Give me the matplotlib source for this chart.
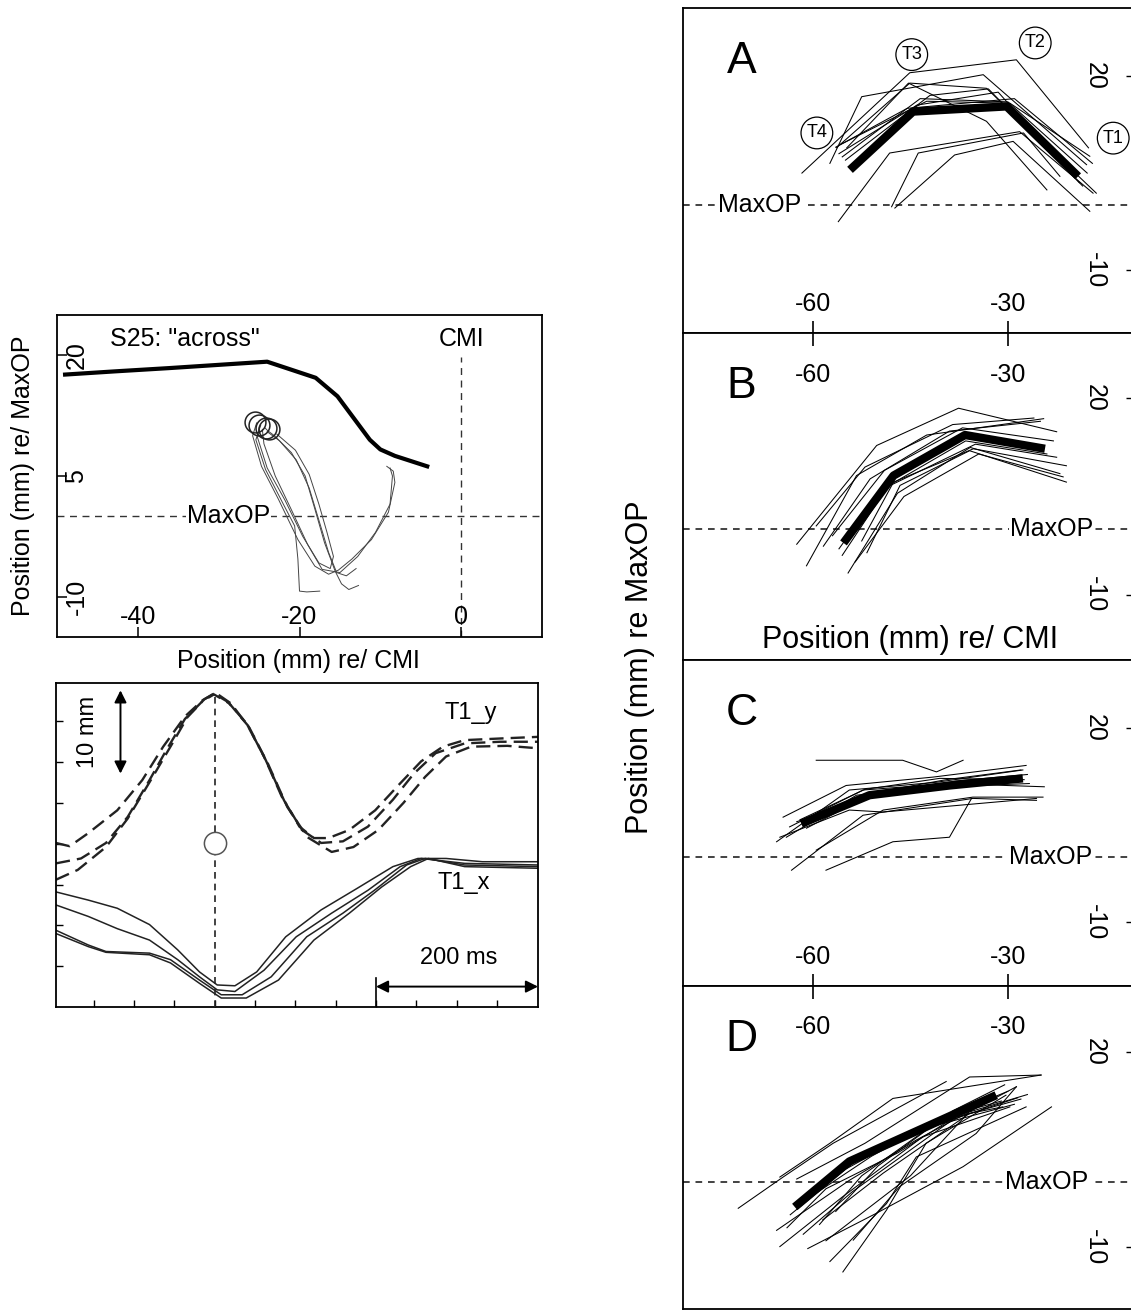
import matplotlib
matplotlib.use('Agg')
import matplotlib.pyplot as plt

plt.rcParams['font.family'] = ['Liberation Sans', 'DejaVu Sans']

# ------------------------------------------------------------------ data
# Top-left: S25 "across" – palate contour, onset circles, tongue trajectories
palate_x = [-49.0, -42.8, -36.2, -24.0, -18.0, -15.3, -13.3, -11.3, -10.0, -8.2, -4.2]
palate_y = [17.6, 18.0, 18.4, 19.2, 17.2, 14.9, 12.2, 9.5, 8.3, 7.5, 6.2]
onset_x = [-25.5, -25.0, -24.2, -23.8]
onset_y = [11.7, 11.3, 11.0, 10.8]
traj_x = [
    [-25.3, -25.8, -24.7, -22.6, -20.2, -18.1, -16.4, -15.2, -13.5, -11.1, -9.0, -8.2, -8.4, -9.2],
    [-24.3, -23.9, -23.1, -21.0, -19.3, -18.1, -16.9, -16.0, -15.6, -14.8, -13.9, -12.7],
    [-24.8, -25.4, -24.2, -22.0, -20.6, -20.2, -20.0, -19.1, -17.5],
    [-25.0, -25.2, -24.0, -21.8, -19.6, -17.6, -16.2, -15.8, -16.6, -17.6, -18.8, -20.5, -22.8],
    [-24.6, -24.4, -23.0, -21.0, -19.0, -17.2, -15.0, -12.8, -10.6, -8.8, -8.5, -8.8],
    [-24.0, -22.5, -20.4, -18.8, -17.6, -16.4, -15.4, -14.2, -13.0],
]
traj_y = [
    [11.6, 10.0, 6.2, 2.1, -2.9, -6.2, -7.2, -6.7, -5.3, -2.9, 0.5, 4.2, 5.6, 6.2],
    [11.0, 10.6, 10.0, 7.9, 5.0, 0.9, -3.3, -5.7, -6.8, -8.4, -9.1, -8.6],
    [11.3, 9.5, 5.8, 1.5, -1.2, -5.3, -9.3, -9.4, -9.3],
    [11.0, 9.8, 6.0, 2.0, -2.5, -5.8, -6.5, -5.0, -2.0, 1.5, 5.2, 8.2, 10.2],
    [10.8, 9.0, 5.0, 0.8, -3.5, -6.6, -7.0, -5.0, -2.0, 1.5, 5.0, 6.0],
    [10.5, 9.4, 7.0, 3.5, -0.5, -4.5, -7.0, -7.4, -6.5],
]
tl_xticks = [-40, -20, 0]
tl_yticks = [20, 5, -10]

# Bottom-left: T1_y (dashed) and T1_x (solid) time series, ms / mm
t1y_x = [
    [3, 20, 43, 79, 110, 136, 163, 185, 199, 216, 239, 261, 283, 305, 323, 341, 367, 399, 430, 456, 483, 510, 554, 601],
    [3, 34, 65, 92, 119, 140, 163, 185, 199, 218, 241, 263, 286, 308, 332, 359, 390, 421, 447, 474, 510, 554, 601],
    [3, 30, 65, 92, 123, 145, 166, 187, 201, 220, 243, 266, 290, 315, 345, 372, 403, 434, 461, 487, 518, 563, 601],
]
t1y_y = [
    [20.1, 19.7, 21.3, 24.1, 27.8, 31.9, 35.6, 37.6, 38.4, 37.4, 34.8, 30.7, 25.8, 22.1, 20.7, 20.7, 21.7, 24.1, 27.4, 30.1, 31.9, 32.7, 32.9, 33.1],
    [17.6, 18.2, 20.1, 23.3, 27.8, 31.5, 35.3, 37.5, 38.3, 37.2, 34.5, 30.3, 25.3, 21.7, 20.1, 20.3, 22.1, 25.4, 28.6, 31.1, 32.3, 32.5, 32.5],
    [15.6, 16.8, 19.6, 23.1, 28.2, 31.9, 35.5, 37.7, 38.5, 37.2, 34.2, 29.8, 24.5, 20.8, 19.0, 19.6, 21.7, 25.0, 28.2, 30.7, 31.9, 32.0, 31.7],
]
t1x_x = [
    [3, 43, 79, 119, 154, 181, 203, 225, 252, 288, 332, 376, 421, 452, 487, 532, 601],
    [3, 43, 79, 119, 154, 181, 203, 225, 261, 301, 345, 390, 430, 456, 510, 601],
    [3, 43, 65, 119, 145, 181, 208, 234, 270, 314, 359, 398, 438, 461, 510, 601],
    [3, 43, 65, 119, 145, 181, 208, 239, 279, 323, 367, 407, 443, 465, 510, 601],
]
t1x_y = [
    [14.1, 13.1, 12.1, 10.1, 7.0, 4.3, 2.7, 2.6, 4.3, 8.6, 11.9, 14.5, 17.2, 18.2, 18.2, 17.8, 17.8],
    [12.5, 11.1, 9.6, 8.2, 5.8, 3.7, 2.1, 1.9, 4.5, 8.6, 11.5, 14.3, 17.2, 18.2, 17.6, 17.4],
    [9.4, 7.6, 6.8, 6.6, 5.8, 3.3, 1.5, 1.5, 3.7, 8.6, 11.5, 14.3, 17.4, 18.2, 17.4, 17.2],
    [9.0, 7.4, 6.7, 6.4, 5.4, 2.9, 1.1, 1.1, 3.3, 8.2, 11.5, 14.7, 17.2, 18.2, 17.2, 17.0],
]
peak_time = 200
peak_marker_y = 20.1
bl_xticks = [50, 100, 150, 200, 250, 300, 350, 400, 450, 500, 550]
bl_yticks = [5, 10, 15, 20, 25, 30, 35]

# Right panels A-D: T4, T3, T2, T1 positions per trial, and the mean (thick)
A_mean_x = [-54.3, -44.6, -30.2, -19.2]
A_mean_y = [5.5, 14.5, 15.3, 4.5]
A_trials_x = [
    [-61.7, -45.1, -28.7, -17.6], [-57.4, -52.5, -33.8, -17.9], [-56.4, -45.1, -33.3, -16.4],
    [-56.1, -48.2, -28.2, -16.9], [-47.9, -43.8, -27.6, -22.0], [-47.4, -38.2, -29.2, -17.4],
    [-55.8, -42.5, -29.7, -17.4], [-54.8, -45.3, -33.3, -24.0], [-55.5, -43.5, -30.0, -17.8],
    [-56.0, -44.0, -31.5, -19.0], [-55.0, -42.0, -33.0, -18.5], [-56.5, -45.5, -29.0, -17.0],
]
A_trials_y = [
    [5.0, 20.5, 22.5, 8.9], [6.5, 16.8, 20.2, 6.3], [8.9, 18.9, 18.1, 1.9],
    [-2.5, 8.1, 11.4, 1.9], [-0.2, 8.1, 11.2, 4.5], [-0.4, 7.8, 9.9, -0.9],
    [9.4, 16.1, 15.8, 7.6], [8.9, 18.9, 13.0, 2.4], [7.5, 16.5, 16.0, 5.0],
    [8.0, 15.5, 17.5, 3.5], [7.0, 17.0, 18.0, 3.0], [9.0, 15.0, 16.5, 6.5],
]
B_mean_x = [-55.3, -47.6, -36.6, -24.3]
B_mean_y = [-2.1, 8.2, 14.4, 12.3]
B_trials_x = [
    [-62.5, -50.2, -37.6, -22.5], [-61.0, -53.3, -42.5, -24.5], [-54.6, -47.0, -35.8, -22.0],
    [-52.5, -47.6, -35.3, -21.0], [-51.7, -46.6, -35.9, -21.0], [-58.4, -51.2, -39.0, -25.0],
    [-57.0, -49.0, -37.0, -23.0], [-55.5, -48.5, -35.0, -22.5], [-59.5, -52.0, -38.5, -26.0],
    [-53.5, -46.0, -34.5, -21.5], [-56.0, -49.5, -36.5, -24.0],
]
B_trials_y = [
    [-2.3, 12.8, 18.5, 14.9], [-5.6, 8.2, 14.4, 16.9], [-6.7, 5.5, 12.5, 8.5],
    [-1.8, 7.2, 12.3, 9.7], [-3.6, 6.7, 12.0, 7.2], [-2.6, 7.7, 15.0, 16.5],
    [-1.0, 9.0, 15.5, 13.5], [-4.0, 6.5, 13.0, 11.0], [0.5, 9.5, 16.0, 17.0],
    [-5.0, 5.0, 11.5, 8.0], [-3.0, 6.0, 13.5, 11.5],
]
C_mean_x = [-61.8, -51.3, -39.0, -27.7]
C_mean_y = [5.2, 9.6, 11.1, 12.2]
C_trials_x = [
    [-59.5, -46.2, -41.0, -36.9], [-64.6, -54.9, -41.5, -27.2], [-65.6, -54.4, -41.0, -27.7],
    [-63.3, -52.3, -35.4, -25.6], [-58.0, -47.7, -39.0, -35.6], [-63.6, -52.3, -39.0, -24.4],
    [-64.1, -53.3, -40.0, -26.7], [-65.1, -54.4, -49.2, -25.6], [-59.5, -49.2, -35.4, -24.6],
    [-62.5, -51.5, -38.0, -27.0], [-61.0, -50.5, -39.5, -28.0], [-62.0, -52.0, -40.5, -27.5],
]
C_trials_y = [
    [15.0, 15.0, 13.2, 15.0], [6.2, 11.1, 12.4, 14.2], [2.4, 10.4, 11.6, 13.5],
    [-2.0, 6.5, 9.1, 8.8], [-2.0, 2.4, 3.1, 9.1], [4.7, 10.4, 11.4, 10.9],
    [3.1, 9.6, 10.9, 11.4], [3.1, 7.3, 7.0, 9.1], [1.1, 7.3, 9.3, 9.3],
    [5.5, 9.2, 11.8, 12.8], [4.5, 10.0, 12.0, 13.5], [5.8, 10.5, 12.2, 12.0],
]
D_mean_x = [-62.8, -54.4, -48.2, -31.8]
D_mean_y = [-3.8, 3.2, 6.0, 13.4]
D_trials_x = [
    [-71.5, -64.6, -56.9, -39.5], [-65.1, -57.4, -47.7, -24.9], [-65.6, -54.4, -44.1, -28.7],
    [-65.1, -55.4, -43.1, -29.7], [-60.8, -50.3, -36.9, -23.3], [-57.4, -48.7, -44.1, -27.2],
    [-55.4, -48.7, -42.6, -30.3], [-53.8, -46.7, -34.9, -28.7], [-58.5, -49.2, -35.9, -30.8],
    [-62.0, -53.0, -41.0, -30.0], [-60.0, -51.0, -40.0, -31.0], [-63.5, -55.0, -45.0, -28.5],
    [-59.0, -52.5, -42.0, -29.0], [-61.5, -54.0, -38.0, -28.0], [-56.5, -50.0, -38.5, -30.5],
    [-64.0, -58.0, -47.0, -35.0], [-58.0, -45.0, -36.0, -27.0], [-62.5, -52.0, -35.9, -24.9],
]
D_trials_y = [
    [-4.0, 0.8, 6.0, 15.5], [0.8, 6.0, 12.9, 16.5], [-7.4, 0.3, 6.5, 14.7],
    [-9.9, -2.2, 7.0, 11.6], [-10.2, -4.8, 2.4, 11.6], [-12.2, -3.3, 3.9, 11.6],
    [-13.8, -4.3, 6.0, 13.4], [-8.9, -0.7, 7.5, 14.7], [-5.8, 1.4, 10.6, 11.6],
    [-3.0, 3.5, 9.5, 14.0], [-2.0, 4.0, 10.0, 12.5], [-5.0, 2.0, 7.5, 13.0],
    [-6.5, 1.0, 8.5, 12.0], [-8.0, -1.5, 10.0, 12.8], [-4.5, 2.5, 11.0, 15.0],
    [-7.0, -1.0, 4.5, 12.0], [-9.0, 1.0, 10.8, 13.5], [0.5, 6.0, 16.2, 16.5],
]
right_xticks = [-60, -30]
right_yticks = [20, -10]
sensor_labels = ['T4', 'T3', 'T2', 'T1']
sensor_x = [-59.4, -44.8, -25.8, -13.8]
sensor_y = [11.2, 23.3, 25.1, 10.4]

# ------------------------------------------------------------------ layout
W, H = 1131, 1311
fig = plt.figure(figsize=(W / 100, H / 100), dpi=100)


def rect(x0, y0, x1, y1):
    return [x0 / W, 1 - y1 / H, (x1 - x0) / W, (y1 - y0) / H]


SPW = 1.3
FS = 18

# ---------------- top-left
ax1 = fig.add_axes(rect(57, 315, 542, 637))
ax1.set_xlim(-50, 10)
ax1.set_ylim(-15, 25)
for s in ax1.spines.values():
    s.set_linewidth(SPW)
ax1.set_xticks(tl_xticks)
ax1.set_yticks(tl_yticks)
ax1.tick_params(direction='in', length=7, width=1.1, labelbottom=False, labelleft=False)
for v in tl_xticks:
    ax1.text(v, 0.062, str(v), transform=ax1.get_xaxis_transform(), ha='center', va='center', fontsize=FS)
for v in tl_yticks:
    ax1.text(0.04, v, str(v), transform=ax1.get_yaxis_transform(), ha='center', va='center',
             fontsize=FS, rotation=90)
ax1.axhline(0, color='#333333', lw=1.0, ls=(0, (5, 4)), zorder=1)
ax1.plot([0, 0], [-15, 19.8], color='#333333', lw=1.0, ls=(0, (5, 4)), zorder=1)
ax1.text(-28.8, 0, 'MaxOP', fontsize=FS, ha='center', va='center', zorder=3,
         bbox=dict(fc='white', ec='none', pad=0.5))
ax1.text(-43.5, 22.0, 'S25: "across"', fontsize=FS, ha='left', va='center')
ax1.text(0, 22.0, 'CMI', fontsize=FS, ha='center', va='center')
ax1.plot(palate_x, palate_y, color='black', lw=3.0, solid_joinstyle='round')
for xs, ys in zip(traj_x, traj_y):
    ax1.plot(xs, ys, color='#444444', lw=0.7, zorder=4)
ax1.plot(onset_x, onset_y, 'o', ms=15, mfc='none', mec='#222222', mew=1.1, zorder=5)

fig.text(23 / W, 1 - 476 / H, 'Position (mm) re/ MaxOP', rotation=90, ha='center', va='center', fontsize=FS)
fig.text(298 / W, 1 - 661 / H, 'Position (mm) re/ CMI', ha='center', va='center', fontsize=FS)

# ---------------- bottom-left
ax2 = fig.add_axes(rect(56, 683, 538, 1007))
ax2.set_xlim(3, 601)
ax2.set_ylim(0, 39.7)
for s in ax2.spines.values():
    s.set_linewidth(SPW)
ax2.set_xticks(bl_xticks)
ax2.set_yticks(bl_yticks)
ax2.tick_params(direction='in', length=5, width=1.0, labelbottom=False, labelleft=False)
for xs, ys in zip(t1y_x, t1y_y):
    ax2.plot(xs, ys, color='#222222', lw=1.7, ls=(0, (6, 3)), solid_joinstyle='round')
for xs, ys in zip(t1x_x, t1x_y):
    ax2.plot(xs, ys, color='#222222', lw=1.1)
ax2.plot([peak_time, peak_time], [0, 38.0], color='#222222', lw=1.2, ls=(0, (4, 3)), zorder=3)
ax2.plot([peak_time], [peak_marker_y], 'o', ms=16, mfc='white', mec='#555555', mew=1.1, zorder=4)
ax2.text(518, 36.0, 'T1_y', fontsize=17, ha='center', va='center')
ax2.text(509, 15.2, 'T1_x', fontsize=17, ha='center', va='center')
ax2.text(503, 6.0, '200 ms', fontsize=17, ha='center', va='center')
ax2.text(43, 33.7, '10 mm', fontsize=17, ha='center', va='center', rotation=90)
ax2.annotate('', xy=(83, 38.8), xytext=(83, 28.6),
             arrowprops=dict(arrowstyle='<|-|>', color='black', lw=1.4, mutation_scale=18,
                             shrinkA=0, shrinkB=0))
ax2.annotate('', xy=(400, 2.5), xytext=(601, 2.5),
             arrowprops=dict(arrowstyle='<|-|>', color='black', lw=1.4, mutation_scale=18,
                             shrinkA=0, shrinkB=0))
ax2.plot([400, 400], [0, 3.6], color='black', lw=1.2)

# ---------------- right column A-D
panels = [
    ('A', A_mean_x, A_mean_y, A_trials_x, A_trials_y, (8, 333), (-19.7, 30.5), 'bottom', -68.2),
    ('B', B_mean_x, B_mean_y, B_trials_x, B_trials_y, (333, 660), (-20.0, 30.0), 'top', -23.2),
    ('C', C_mean_x, C_mean_y, C_trials_x, C_trials_y, (660, 986), (-19.9, 30.5), 'bottom', -23.5),
    ('D', D_mean_x, D_mean_y, D_trials_x, D_trials_y, (986, 1309), (-19.5, 30.2), 'top', -24.0),
]
for letter, mx, my, tx, ty, (y0, y1), ylim, xside, maxop_x in panels:
    ax = fig.add_axes(rect(683, y0, 1134, y1))
    ax.set_xlim(-80, -10.6)
    ax.set_ylim(*ylim)
    for s in ax.spines.values():
        s.set_linewidth(SPW)
    ax.set_xticks(right_xticks)
    ax.set_yticks(right_yticks)
    if xside == 'top':
        ax.xaxis.tick_top()
        lab_y = 0.872
    else:
        lab_y = 0.088
    ax.yaxis.tick_right()
    ax.tick_params(axis='x', direction='in', length=9, width=1.2, labelbottom=False, labeltop=False)
    ax.tick_params(axis='y', direction='in', length=6, width=1.0, labelright=False, labelleft=False)
    for v in right_xticks:
        ax.text(v, lab_y, str(v), transform=ax.get_xaxis_transform(), ha='center', va='center', fontsize=FS)
    for v in right_yticks:
        ax.text(0.913, v, str(v), transform=ax.get_yaxis_transform(), ha='center', va='center',
                fontsize=FS, rotation=270)
    ax.axhline(0, color='#222222', lw=1.2, ls=(0, (4, 3.5)), zorder=1)
    ax.text(maxop_x, 0, 'MaxOP', fontsize=FS, ha='center', va='center', zorder=2,
            bbox=dict(fc='white', ec='none', pad=1.0))
    for xs, ys in zip(tx, ty):
        ax.plot(xs, ys, color='black', lw=0.75, zorder=3)
    ax.plot(mx, my, color='black', lw=6.0, solid_capstyle='butt', solid_joinstyle='round', zorder=4)
    ax.text(0.13, 0.835, letter, transform=ax.transAxes, fontsize=32, ha='center', va='center')
    if letter == 'A':
        for lab, sx, sy in zip(sensor_labels, sensor_x, sensor_y):
            ax.text(sx, sy, lab, fontsize=13, ha='center', va='center', zorder=5,
                    bbox=dict(boxstyle='circle,pad=0.3', fc='white', ec='black', lw=0.9))
    if letter == 'B':
        ax.text(0.503, 0.061, 'Position (mm) re/ CMI', transform=ax.transAxes,
                fontsize=22, ha='center', va='center')

fig.text(640 / W, 1 - 667 / H, 'Position (mm) re MaxOP', rotation=90, ha='center', va='center', fontsize=22)

fig.savefig('out.png', dpi=100, facecolor='white')
